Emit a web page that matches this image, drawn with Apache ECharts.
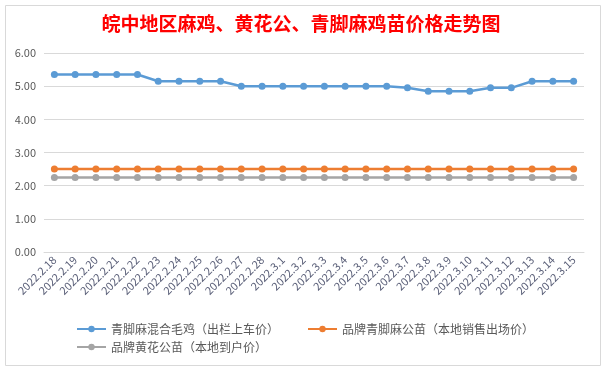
<!DOCTYPE html>
<html><head><meta charset="utf-8">
<script src="https://cdn.jsdelivr.net/npm/echarts@6/dist/echarts.min.js"></script>
<style>html,body{margin:0;padding:0;background:#fff}#c{width:602px;height:367px}</style>
</head><body><div id="c"></div>
<script>
const categories = ['2022.2.18','2022.2.19','2022.2.20','2022.2.21','2022.2.22','2022.2.23','2022.2.24','2022.2.25','2022.2.26','2022.2.27','2022.2.28','2022.3.1','2022.3.2','2022.3.3','2022.3.4','2022.3.5','2022.3.6','2022.3.7','2022.3.8','2022.3.9','2022.3.10','2022.3.11','2022.3.12','2022.3.13','2022.3.14','2022.3.15'];
const seriesNames = ['青脚麻混合毛鸡（出栏上车价）','品牌青脚麻公苗（本地销售出场价）','品牌黄花公苗（本地到户价）'];
const blueValues = [5.35,5.35,5.35,5.35,5.35,5.15,5.15,5.15,5.15,5.00,5.00,5.00,5.00,5.00,5.00,5.00,5.00,4.95,4.85,4.85,4.85,4.95,4.95,5.15,5.15,5.15];
const orangeValues = [2.50,2.50,2.50,2.50,2.50,2.50,2.50,2.50,2.50,2.50,2.50,2.50,2.50,2.50,2.50,2.50,2.50,2.50,2.50,2.50,2.50,2.50,2.50,2.50,2.50,2.50];
const greyValues = [2.25,2.25,2.25,2.25,2.25,2.25,2.25,2.25,2.25,2.25,2.25,2.25,2.25,2.25,2.25,2.25,2.25,2.25,2.25,2.25,2.25,2.25,2.25,2.25,2.25,2.25];
const titleText = '皖中地区麻鸡、黄花公、青脚麻鸡苗价格走势图';

const colors = ['#5b9bd5','#ed7d31','#a5a5a5'];
const font = '"Noto Sans CJK SC", "Noto Sans", sans-serif';
const chart = echarts.init(document.getElementById('c'));
function mk(name, data, color){
  return {name, type:'line', data, color, symbol:'circle', symbolSize:7,
    lineStyle:{width:2.5,color}, itemStyle:{color}, animation:false};
}
chart.setOption({
  backgroundColor:'#fff',
  textStyle:{fontFamily:font},
  title:{text:titleText, left:'center', top:9,
    textStyle:{color:'#ff0000', fontSize:19, fontWeight:'bold', fontFamily:font}},
  grid:{left:44, right:18, top:53, bottom:115, containLabel:false},
  legend:[
    {data:[seriesNames[0], seriesNames[1]], left:71, top:318, itemWidth:29, itemHeight:8, itemGap:28,
      textStyle:{color:'#595959', fontSize:12, fontFamily:font}},
    {data:[seriesNames[2]], left:71, top:336, itemWidth:29, itemHeight:8,
      textStyle:{color:'#595959', fontSize:12, fontFamily:font}}
  ],
  xAxis:{type:'category', data:categories, boundaryGap:true,
    axisLine:{lineStyle:{color:'#d9d9d9'}}, axisTick:{show:false},
    axisLabel:{rotate:45, interval:0, color:'#5a5f78', fontSize:11, margin:6, fontFamily:font}},
  yAxis:{type:'value', min:0, max:6, interval:1,
    axisLine:{show:false}, axisTick:{show:false},
    splitLine:{lineStyle:{color:'#d9d9d9'}},
    axisLabel:{formatter:v=>v.toFixed(2), color:'#595959', fontSize:11, margin:8, fontFamily:font}},
  graphic:[{type:'rect', left:3, top:3, shape:{width:595, height:360}, style:{fill:'none', stroke:'#d9d9d9', lineWidth:1}, silent:true}],
  series:[mk(seriesNames[0], blueValues, colors[0]), mk(seriesNames[1], orangeValues, colors[1]), mk(seriesNames[2], greyValues, colors[2])]
});
</script></body></html>
